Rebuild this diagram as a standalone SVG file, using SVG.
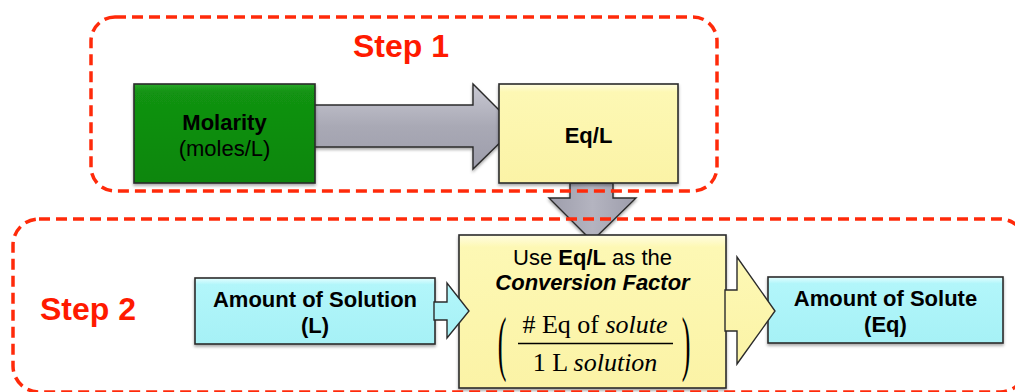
<svg xmlns="http://www.w3.org/2000/svg" width="1015" height="392" viewBox="0 0 1015 392">
<style>
.region{fill:none;stroke:#ff2a0a;stroke-width:3.5;stroke-dasharray:11 6}
.step{font-family:"Liberation Sans",Arial,sans-serif;font-weight:bold;fill:#ff1a00;font-size:32px}
.box{stroke:#2b2b2b;stroke-width:1.6}
.lbl{font-family:"Liberation Sans",Arial,sans-serif;font-size:22px;fill:#000;text-anchor:middle}
.b{font-weight:bold}
.math{font-family:"Liberation Serif","Times New Roman",serif;font-size:26px;fill:#000;text-anchor:middle}
.arrow{stroke:#2b2b2b;stroke-width:1.4;stroke-linejoin:miter}
</style>
<defs>
<linearGradient id="gGreen" x1="0" y1="0" x2="0" y2="1"><stop offset="0" stop-color="#2aa82a"/><stop offset="0.08" stop-color="#129312"/><stop offset="1" stop-color="#0b860b"/></linearGradient>
<linearGradient id="gYellow" x1="0" y1="0" x2="0" y2="1"><stop offset="0" stop-color="#fffde0"/><stop offset="0.08" stop-color="#fdf8b4"/><stop offset="1" stop-color="#fbf3a6"/></linearGradient>
<linearGradient id="gBlue" x1="0" y1="0" x2="0" y2="1"><stop offset="0" stop-color="#e4feff"/><stop offset="0.1" stop-color="#b2f6fa"/><stop offset="1" stop-color="#a6f1f6"/></linearGradient>
<linearGradient id="gGray" x1="0" y1="0" x2="0" y2="1"><stop offset="0" stop-color="#c9c9d3"/><stop offset="0.5" stop-color="#a9a9b5"/><stop offset="1" stop-color="#9d9dab"/></linearGradient>
<linearGradient id="gGrayV" x1="0" y1="0" x2="1" y2="0"><stop offset="0" stop-color="#9d9dab"/><stop offset="0.5" stop-color="#b4b4c0"/><stop offset="1" stop-color="#9d9dab"/></linearGradient>
<filter id="sh" x="-10%" y="-10%" width="120%" height="130%"><feDropShadow dx="0" dy="2" stdDeviation="1.5" flood-color="#000" flood-opacity="0.35"/></filter>
</defs>

<g id="connectors">
<polygon id="arrow-molarity-eql" class="arrow" fill="url(#gGray)" filter="url(#sh)" points="313,105 473,105 473,84 516,127 473,169 473,147 313,147"/>
<polygon id="arrow-eql-down" class="arrow" fill="url(#gGrayV)" filter="url(#sh)" points="570,183 613,183 613,198 636,198 592,241 549,198 570,198"/>
</g>

<g id="node-molarity">
<rect class="box" x="134" y="84" width="181" height="99" fill="url(#gGreen)" filter="url(#sh)"/>
<text class="lbl b" x="224.5" y="130">Molarity</text>
<text class="lbl" x="224.5" y="156">(moles/L)</text>
</g>

<g id="node-eql">
<rect class="box" x="499" y="84" width="179" height="99" fill="url(#gYellow)" filter="url(#sh)"/>
<text class="lbl b" x="588.5" y="143">Eq/L</text>
</g>

<g id="node-solution">
<rect class="box" x="195" y="278" width="240" height="66" fill="url(#gBlue)" filter="url(#sh)"/>
<text class="lbl b" x="315" y="307">Amount of Solution</text>
<text class="lbl b" x="315" y="333">(L)</text>
</g>

<g id="node-conversion">
<rect class="box" x="459" y="235" width="267" height="153" fill="url(#gYellow)" filter="url(#sh)"/>
<text class="lbl" x="592.5" y="265">Use <tspan class="b">Eq/L</tspan> as the</text>
<text class="lbl b" x="592.5" y="290" font-style="italic">Conversion Factor</text>
<text class="math" x="595" y="333"># Eq of <tspan font-style="italic">solute</tspan></text>
<line x1="518" y1="343.5" x2="673" y2="343.5" stroke="#000" stroke-width="1.3"/>
<text class="math" x="595" y="371">1 L <tspan font-style="italic">solution</tspan></text>
<text class="math" x="0" y="0" font-size="24" transform="translate(502,367) scale(1,2.8)">(</text>
<text class="math" x="0" y="0" font-size="24" transform="translate(686,367) scale(1,2.8)">)</text>
</g>

<g id="node-solute">
<rect class="box" x="768" y="277" width="235" height="66" fill="url(#gBlue)" filter="url(#sh)"/>
<text class="lbl b" x="885.5" y="306">Amount of Solute</text>
<text class="lbl b" x="885.5" y="332">(Eq)</text>
</g>

<g id="connectors-2">
<polygon id="arrow-solution-conversion" class="arrow" fill="url(#gBlue)" points="434,302 447,302 447,283 469,311 447,338 447,320 434,320"/>
<polygon id="arrow-conversion-solute" class="arrow" fill="url(#gYellow)" points="725,290 737,290 737,257 775,311 737,364 737,331 725,331"/>
</g>

<g id="step1">
<rect class="region" x="91" y="17" width="626" height="174" rx="24" ry="24"/>
<text class="step" x="401" y="57" text-anchor="middle">Step 1</text>
</g>

<g id="step2">
<rect class="region" x="13" y="219" width="1013" height="173" rx="26" ry="26"/>
<text class="step" x="40" y="320" font-size="33">Step 2</text>
</g>
</svg>
